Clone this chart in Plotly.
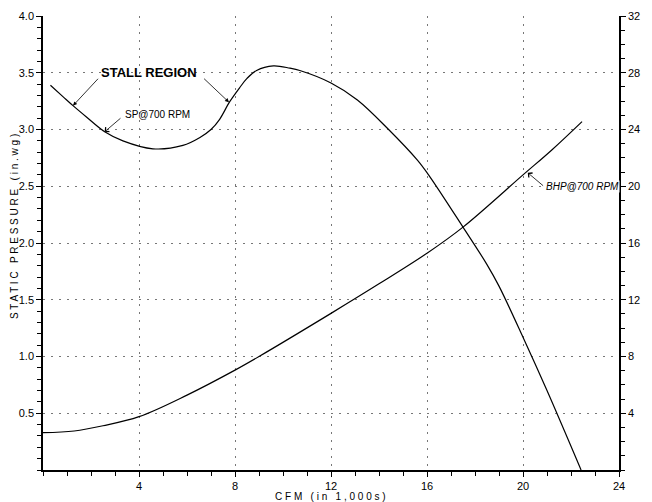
import plotly.graph_objects as go

# Static pressure curve (in. wg) vs CFM (thousands)
sp_cfm = [0.31, 0.83, 1.25, 1.81, 2.57, 3.33, 4.58, 5.83, 6.54, 7.0, 7.36, 7.78, 8.2, 8.5, 8.9, 9.6, 10.29, 10.7, 12.0, 13.1, 14.4, 15.6, 16.1, 17.5, 18.5, 19.0, 20.0, 21.0, 22.42]
sp_val = [3.39, 3.29, 3.21, 3.11, 2.98, 2.90, 2.83, 2.86, 2.93, 3.00, 3.09, 3.245, 3.37, 3.45, 3.52, 3.56, 3.54, 3.52, 3.41, 3.26, 3.00, 2.73, 2.59, 2.14, 1.81, 1.62, 1.17, 0.70, 0.0]

# Brake horsepower curve vs CFM (thousands)
bhp_cfm = [0.0, 1.3, 2.5, 4.0, 6.0, 8.0, 9.0, 12.0, 14.0, 16.0, 17.5, 20.0, 21.2, 22.46]
bhp_val = [2.63, 2.75, 3.12, 3.76, 5.28, 7.04, 8.0, 11.04, 13.12, 15.28, 17.12, 20.8, 22.56, 24.56]

x_ticks = [4, 8, 12, 16, 20, 24]
sp_ticks = [0.5, 1.0, 1.5, 2.0, 2.5, 3.0, 3.5, 4.0]
hp_ticks = [4, 8, 12, 16, 20, 24, 28, 32]

FONT = "Liberation Sans, Arial, Helvetica, sans-serif"

fig = go.Figure()
fig.add_trace(go.Scatter(x=sp_cfm, y=sp_val, mode="lines",
                         line=dict(color="black", width=1.2, shape="spline", smoothing=1.0),
                         showlegend=False, hoverinfo="skip"))
fig.add_trace(go.Scatter(x=bhp_cfm, y=bhp_val, mode="lines", yaxis="y2",
                         line=dict(color="black", width=1.2, shape="spline", smoothing=1.0),
                         showlegend=False, hoverinfo="skip"))

grid = dict(showgrid=True, gridcolor="#777777", griddash="2px,6px", gridwidth=1)
tickstyle = dict(ticks="outside", ticklen=5, tickcolor="black", tickwidth=1,
                 showline=True, linecolor="black", linewidth=1.5, automargin=False,
                 zeroline=False, tickfont=dict(size=11))

# the page body adds an 8px offset, so the margins are shifted to compensate
fig.update_layout(
    width=652, height=502,
    margin=dict(l=35, r=41, t=8, b=40, autoexpand=False),
    paper_bgcolor="white", plot_bgcolor="white",
    font=dict(family=FONT, size=11, color="black"),
    xaxis=dict(range=[0, 24], tickmode="array", tickvals=x_ticks,
               ticktext=[str(v) for v in x_ticks],
               minor=dict(dtick=1, tick0=0, ticks="outside", ticklen=4, tickcolor="black", showgrid=False),
               **tickstyle, **grid),
    yaxis=dict(range=[0, 4], tickmode="array", tickvals=sp_ticks,
               ticktext=["%.1f" % v for v in sp_ticks],
               minor=dict(dtick=0.1, tick0=0, ticks="outside", ticklen=4, tickcolor="black", showgrid=False),
               **tickstyle, **grid),
    yaxis2=dict(range=[0, 32], overlaying="y", side="right", tickmode="array",
                tickvals=hp_ticks, ticktext=[str(v) for v in hp_ticks],
                minor=dict(dtick=1, tick0=0, ticks="outside", ticklen=4, tickcolor="black", showgrid=False),
                showgrid=False, **tickstyle),
)

# Axis titles
fig.add_annotation(x=(330 - 43) / 576, y=(470 - 497) / 454, xref="paper", yref="paper",
                   xanchor="center", yanchor="middle",
                   text="C F M   ( i n   1 , 0 0 0 s )", showarrow=False,
                   font=dict(size=10, family=FONT))
fig.add_annotation(x=(15 - 43) / 576, y=(470 - 227) / 454, xref="paper", yref="paper",
                   xanchor="center", yanchor="middle",
                   text="S T A T I C   P R E S S U R E   ( i n . w g )", showarrow=False, textangle=-90,
                   font=dict(size=10, family=FONT))
fig.add_annotation(x=(651 - 43) / 576, y=(470 - 231) / 454, xref="paper", yref="paper",
                   xanchor="center", yanchor="middle",
                   text="B R A K E   H O R S E P O W E R", showarrow=False, textangle=-90,
                   font=dict(size=10, family=FONT))

# Stall region label and arrows
fig.add_annotation(x=4.4, y=3.50, xref="x", yref="y", text="<b>STALL REGION</b>",
                   showarrow=False, font=dict(size=13, family=FONT))
fig.add_annotation(x=1.25, y=3.21, ax=2.35, ay=3.46, xref="x", yref="y", axref="x", ayref="y",
                   text="", showarrow=True, arrowhead=2, arrowsize=1, arrowwidth=0.8, arrowcolor="black")
fig.add_annotation(x=7.75, y=3.24, ax=6.65, ay=3.46, xref="x", yref="y", axref="x", ayref="y",
                   text="", showarrow=True, arrowhead=2, arrowsize=1, arrowwidth=0.8, arrowcolor="black")

# SP@700 RPM label
fig.add_annotation(x=3.33, y=3.13, xref="x", yref="y", text="SP@700 RPM", xanchor="left",
                   showarrow=False, font=dict(size=10, family=FONT))
fig.add_annotation(x=2.57, y=2.98, ax=3.29, ay=3.11, xref="x", yref="y", axref="x", ayref="y",
                   text="", showarrow=True, arrowhead=4, arrowsize=1.4, arrowwidth=0.8, arrowcolor="black")

# BHP@700 RPM label
fig.add_annotation(x=20.9, y=19.95, xref="x", yref="y2", text="<i>BHP@700 RPM</i>", xanchor="left",
                   showarrow=False, font=dict(size=10, family=FONT), bgcolor="white", borderpad=0)
fig.add_annotation(x=20.2, y=20.95, ax=20.9, ay=19.95, xref="x", yref="y2", axref="x", ayref="y2",
                   text="", showarrow=True, arrowhead=4, arrowsize=1.4, arrowwidth=0.8, arrowcolor="black")

fig.write_html("out.html")
